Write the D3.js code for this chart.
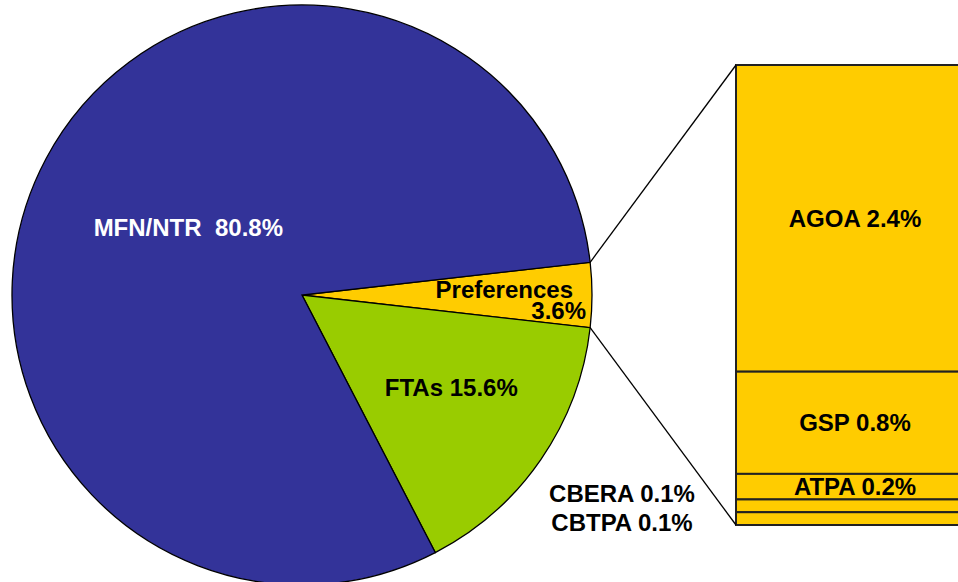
<!DOCTYPE html>
<html>
<head>
<meta charset="utf-8">
<script src="https://cdn.jsdelivr.net/npm/d3@7"></script>
<style>
  body { margin: 0; background: #fff; }
  text { font-family: Arial, "Liberation Sans", sans-serif; font-weight: bold; }
</style>
</head>
<body>
<div id="wrapper"></div>
<script>
// pie data (share of imports, %)
const pieNames = ["Preferences", "FTAs", "MFN/NTR"]
const pieValues = [3.6, 15.6, 80.8]
const pieColors = ["#ffcc00", "#99cc00", "#333399"]

// breakdown of the preferences slice
const prefNames = ["AGOA", "GSP", "ATPA", "CBERA", "CBTPA"]
const prefValues = [2.4, 0.8, 0.2, 0.1, 0.1]

const width = 958
const height = 582
const cx = 302, cy = 295, radius = 290

const svg = d3.select("#wrapper")
  .append("svg")
    .attr("width", width)
    .attr("height", height)

// pie, preferences slice centred on 3 o'clock
const prefAngle = pieValues[0] / d3.sum(pieValues) * 2 * Math.PI
const start = Math.PI / 2 - prefAngle / 2
const pie = d3.pie()
  .sort(null)
  .startAngle(start)
  .endAngle(start + 2 * Math.PI)
const arcs = pie(pieValues)
const arc = d3.arc().innerRadius(0).outerRadius(radius)

const pieG = svg.append("g")
    .attr("transform", `translate(${cx},${cy})`)

pieG.selectAll("path")
    .data(arcs)
  .join("path")
    .attr("d", arc)
    .attr("fill", (d, i) => pieColors[i])
    .attr("stroke", "#000")
    .attr("stroke-width", 1.3)

// stacked bar for the preference programmes
const barTop = 65, barBottom = 525
const barX = 736, barW = 240
const yScale = d3.scaleLinear()
  .domain([0, d3.sum(prefValues)])
  .range([barTop, barBottom])
const cum = d3.cumsum(prefValues)
const segs = prefValues.map((v, i) => ({ name: prefNames[i], value: v, y0: cum[i] - v, y1: cum[i] }))

const barG = svg.append("g")
barG.selectAll("rect")
    .data(segs)
  .join("rect")
    .attr("x", barX)
    .attr("y", d => yScale(d.y0))
    .attr("width", barW)
    .attr("height", d => yScale(d.y1) - yScale(d.y0))
    .attr("fill", pieColors[0])
    .attr("stroke", "#222")
    .attr("stroke-width", 2)

// connector lines from the slice edge to the bar
const pref = arcs[0]
const edge = a => [cx + radius * Math.sin(a), cy - radius * Math.cos(a)]
const p0 = edge(pref.startAngle), p1 = edge(pref.endAngle)
svg.append("line")
    .attr("x1", p0[0]).attr("y1", p0[1])
    .attr("x2", barX).attr("y2", barTop)
    .attr("stroke", "#000").attr("stroke-width", 1.3)
svg.append("line")
    .attr("x1", p1[0]).attr("y1", p1[1])
    .attr("x2", barX).attr("y2", barBottom)
    .attr("stroke", "#000").attr("stroke-width", 1.3)

// labels
const fs = "24px"
const polar = (a, r) => [r * Math.sin(a), -r * Math.cos(a)]

const mfn = arcs[2]
const mfnPos = polar((mfn.startAngle + mfn.endAngle) / 2, radius * 0.46)
pieG.append("text")
    .attr("x", mfnPos[0] + 4).attr("y", mfnPos[1] - 5)
    .attr("text-anchor", "middle")
    .attr("dy", "0.35em")
    .attr("fill", "#fff")
    .style("font-size", fs)
    .style("white-space", "pre")
    .text(`${pieNames[2]}  ${pieValues[2]}%`)

const fta = arcs[1]
const ftaPos = polar((fta.startAngle + fta.endAngle) / 2, radius * 0.6)
pieG.append("text")
    .attr("x", ftaPos[0] + 6).attr("y", ftaPos[1] - 6)
    .attr("text-anchor", "middle")
    .attr("dy", "0.35em")
    .attr("fill", "#000")
    .style("font-size", fs)
    .text(`${pieNames[1]} ${pieValues[1]}%`)

pieG.append("text")
    .attr("x", radius - 19).attr("y", 3)
    .attr("text-anchor", "end")
    .attr("fill", "#000")
    .style("font-size", fs)
    .text(pieNames[0])
pieG.append("text")
    .attr("x", radius - 6).attr("y", 24)
    .attr("text-anchor", "end")
    .attr("fill", "#000")
    .style("font-size", fs)
    .text(`${pieValues[0]}%`)

// bar labels for the larger segments
barG.selectAll("text.seg")
    .data(segs.slice(0, 3))
  .join("text")
    .attr("class", "seg")
    .attr("x", barX + 119)
    .attr("y", d => yScale((d.y0 + d.y1) / 2))
    .attr("dy", "0.35em")
    .attr("text-anchor", "middle")
    .style("font-size", fs)
    .text(d => `${d.name} ${d.value}%`)

// small segments labelled beside the bar
svg.selectAll("text.small")
    .data(segs.slice(3))
  .join("text")
    .attr("class", "small")
    .attr("x", 622)
    .attr("y", (d, i) => 494 + i * 29)
    .attr("dy", "0.35em")
    .attr("text-anchor", "middle")
    .style("font-size", fs)
    .text(d => `${d.name} ${d.value}%`)
</script>
</body>
</html>
